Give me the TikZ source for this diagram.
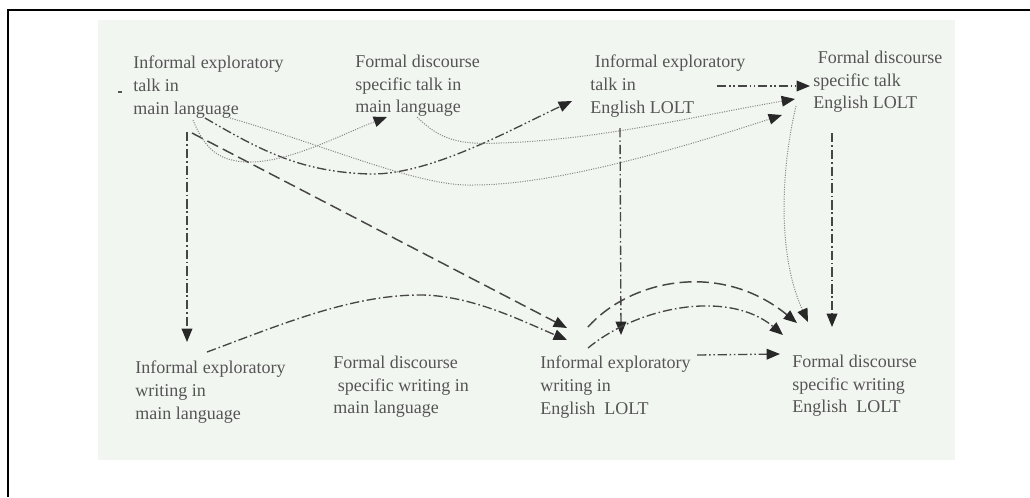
\documentclass[tikz,border=0pt]{standalone}
\usepackage{fontspec}
\setmainfont{Liberation Serif}
\usetikzlibrary{arrows.meta,calc}
\definecolor{panel}{RGB}{242,246,241}
\definecolor{ink}{RGB}{85,85,85}
\definecolor{lineink}{RGB}{70,70,70}
\definecolor{dotink}{RGB}{135,135,135}
\definecolor{tipink}{RGB}{40,40,40}

\begin{document}
\begin{tikzpicture}[x=0.75pt,y=-0.75pt,
  label/.style={anchor=north west,inner sep=0pt,align=left,text=ink,
    font=\fontsize{13.5}{16.9}\selectfont},
  tip/.style={-{Triangle[length=10pt,width=8pt,color=tipink]}},
  dashdot/.style={tip,draw=lineink,line width=1pt,
    dash pattern=on 7pt off 2.2pt on 1.2pt off 2.2pt},
  dashdotdot/.style={tip,draw=lineink,line width=1pt,
    dash pattern=on 7pt off 2pt on 1.2pt off 2pt on 1.2pt off 2pt},
  longdash/.style={tip,draw=lineink,line width=1.1pt,dash pattern=on 9pt off 4pt},
  fine/.style={tip,draw=dotink,line width=0.75pt,dash pattern=on 0.8pt off 1pt},
]
\useasboundingbox (0,0) rectangle (1030,497);

% page frame and shaded panel
\draw[line width=1.9pt] (1030,10) -- (8,10) -- (8,497);
\fill[panel] (98,20) rectangle (955,460);

% talk (top row) and writing (bottom row)
\node[label] (n1) at (133,56) {Informal exploratory\\talk in\\main language};
\node[label] (n2) at (355,55) {Formal discourse\\specific talk in\\main language};
\node[label] (n3) at (590,55) {\hspace*{3.5pt}Informal exploratory\\talk in\\English LOLT};
\node[label] (n4) at (813,51) {\hspace*{3.5pt}Formal discourse\\specific talk\\English LOLT};
\node[label] (n5) at (135,361) {Informal exploratory\\writing in\\main language};
\node[label] (n6) at (333,356) {Formal discourse\\\hspace*{3.5pt}specific writing in\\main language};
\node[label] (n7) at (540,356) {Informal exploratory\\writing in\\English\ \ LOLT};
\node[label] (n8) at (792,355) {Formal discourse\\specific writing\\English\ \ LOLT};
\node[inner sep=0pt,fill=ink,minimum width=3pt,minimum height=1pt] (tick) at (120,92) {};

% connectors
\draw[dashdot] ($(n1.north west)+(54,76)$) -- ($(n5.north west)+(52,-19)$);
\draw[longdash] ($(n1.north west)+(59,77)$) -- ($(n7.north west)+(27,-28)$);
\draw[dashdotdot] ($(n1.north west)+(72,62)$) .. controls (260,150) and (300,172) .. (370,174)
  .. controls (430,175) and (510,130) .. ($(n3.north west)+(-18,46)$);
\draw[fine] ($(n1.north west)+(60,64)$) .. controls (205,150) and (220,162) .. (250,162)
  .. controls (290,162) and (340,135) .. ($(n2.north west)+(32,62)$);
\draw[fine] ($(n1.north west)+(97,62)$) .. controls (330,147) and (420,187) .. (473,185)
  .. controls (560,185) and (690,145) .. ($(n4.north west)+(-31,64)$);
\draw[fine] ($(n2.north west)+(62,62)$) .. controls (440,140) and (460,145) .. (500,143)
  .. controls (600,140) and (700,115) .. ($(n4.north west)+(-18,48)$);
\draw[fine] ($(n4.north west)+(-17,55)$) .. controls (783,160) and (775,250) .. ($(n8.north west)+(16,-33)$);
\draw[dashdot] ($(n4.north west)+(19,82)$) -- ($(n8.north west)+(40,-28)$);
\draw[dashdot] ($(n3.north west)+(30,73)$) -- ($(n7.north west)+(81,-21)$);
\draw[dashdotdot] ($(n3.north west)+(127,31)$) -- ($(n4.north west)+(-3,35)$);
\draw[dashdotdot] ($(n7.north west)+(157,-1)$) -- ($(n8.north west)+(-12,-1)$);
\draw[longdash] ($(n7.north west)+(48,-29)$) .. controls (630,280) and (720,260) .. ($(n8.north west)+(5,-32)$);
\draw[dashdot] ($(n7.north west)+(48,-8)$) .. controls (640,305) and (730,290) .. ($(n8.north west)+(-9,-20)$);
\draw[dashdot] ($(n5.north west)+(72,-9)$) .. controls (280,325) and (350,295) .. (420,295)
  .. controls (470,295) and (520,320) .. ($(n7.north west)+(27,-16)$);
\end{tikzpicture}
\end{document}
